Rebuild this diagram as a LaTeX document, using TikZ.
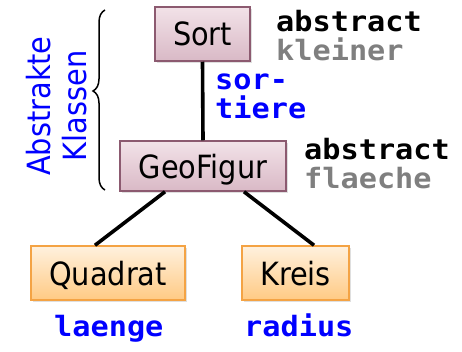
\documentclass[tikz,border=0pt]{standalone}
\usepackage{fontspec}
\setmainfont{DejaVu Sans Condensed}
\newfontfamily\codefont[FakeStretch=1.08]{DejaVu Sans Mono}
\usetikzlibrary{shadows,decorations.pathreplacing}
\definecolor{pinkborder}{HTML}{8C5A70}
\definecolor{pinktop}{HTML}{F2E2E8}
\definecolor{pinkbot}{HTML}{D9B9C6}
\definecolor{orborder}{HTML}{F4A344}
\definecolor{ortop}{HTML}{FFF1DE}
\definecolor{orbot}{HTML}{FFCA84}
\definecolor{codeblue}{HTML}{0000FF}
\definecolor{codegray}{HTML}{7F7F7F}
\tikzset{
  boxtext/.style={font=\fontsize{32}{36}\selectfont, inner sep=0pt, text depth=0pt},
  abstractbox/.style={boxtext, draw=pinkborder, line width=1.5pt, top color=pinktop, bottom color=pinkbot,
    drop shadow={shadow xshift=2pt, shadow yshift=-2pt, opacity=0.25}},
  concretebox/.style={boxtext, draw=orborder, line width=1.5pt, top color=ortop, bottom color=orbot,
    drop shadow={shadow xshift=2pt, shadow yshift=-2pt, opacity=0.25}},
  code/.style={font=\codefont\bfseries\fontsize{28}{29}\selectfont, inner sep=0pt, anchor=base west, align=left},
  link/.style={line width=3.6pt, black},
}
\begin{document}
\begin{tikzpicture}[x=1pt,y=-1pt]
\useasboundingbox (0,0) rectangle (462,351);
\node[abstractbox, minimum width=95pt, minimum height=54pt] (sort) at (202.5,34) {Sort};
\node[abstractbox, minimum width=166pt, minimum height=50pt] (geo) at (203,166) {GeoFigur};
\node[concretebox, minimum width=154pt, minimum height=54pt] (quad) at (108,273) {Quadrat};
\node[concretebox, minimum width=107pt, minimum height=54pt] (kreis) at (295.5,273) {Kreis};
\draw[link] (sort.south) -- (geo.north);
\draw[link] ([xshift=-38pt]geo.south) -- ([xshift=-13pt]quad.north);
\draw[link] ([xshift=41pt]geo.south) -- ([xshift=18.5pt]kreis.north);
\node[code] (abs1) at (276,60) {abstract\\\textcolor{codegray}{kleiner}};
\node[code, text=codeblue] (sortiere) at (215,118) {sor-\\tiere};
\node[code] (abs2) at (304,188) {abstract\\\textcolor{codegray}{flaeche}};
\node[code, text=codeblue] (laenge) at (54,336) {laenge};
\node[code, text=codeblue] (radius) at (244,336) {radius};
\coordinate (bracetop) at (105,10);
\coordinate (bracebot) at (105,190);
\draw[line width=1.5pt, decorate, decoration={brace, amplitude=12pt, aspect=0.55}] (bracebot) -- (bracetop);
\node[rotate=90, font=\fontsize{32}{36}\selectfont, text=codeblue, align=center, inner sep=0pt] (label) at (57,106) {Abstrakte\\Klassen};
\end{tikzpicture}
\end{document}
